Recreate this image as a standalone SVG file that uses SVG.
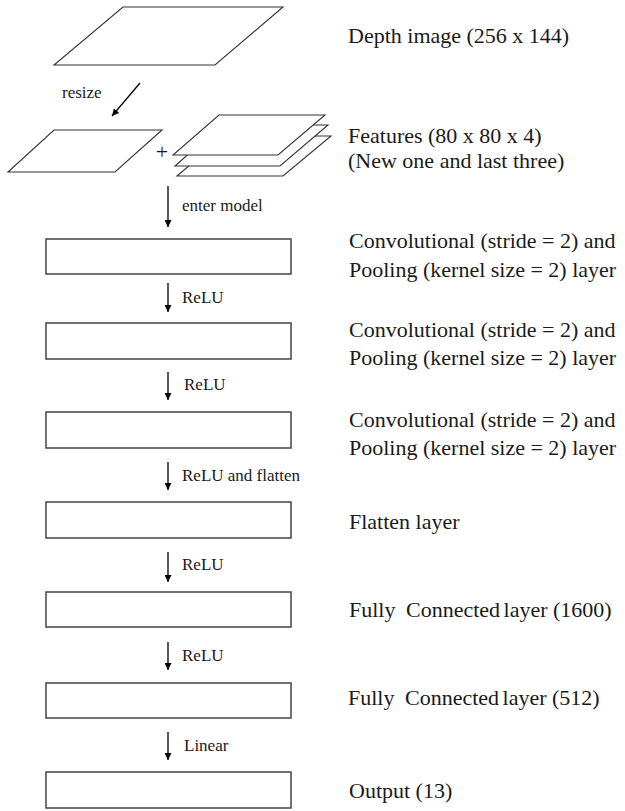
<svg xmlns="http://www.w3.org/2000/svg" width="625" height="811" viewBox="0 0 625 811">
<defs>
<marker id="ah" viewBox="0 0 10 10" refX="10" refY="5" markerWidth="7" markerHeight="7" markerUnits="userSpaceOnUse" orient="auto">
<path d="M0,0 L10,5 L0,10 Z" fill="#000"/>
</marker>
<style>
.box{fill:#fff;stroke:#444;stroke-width:1.5}
.para{fill:#fff;stroke:#333;stroke-width:1.1}
.conn{stroke:#000;stroke-width:1.3;fill:none;marker-end:url(#ah)}
.lbl{font-family:"Liberation Serif","Times New Roman",serif;font-size:22px;fill:#1a1a1a}
.small{font-family:"Liberation Serif","Times New Roman",serif;font-size:17px;fill:#1a1a1a}
</style>
</defs>
<rect width="625" height="811" fill="#fff"/>

<g id="depth-image">
<polygon class="para" points="123,7 283,7 215,65 54,65"/>
<text class="lbl" x="348" y="43">Depth image (256 x 144)</text>
</g>

<g id="resized">
<polygon class="para" points="54,130 162,130 115,172 8,172"/>
<text class="lbl" x="162" y="159" text-anchor="middle" font-size="22">+</text>
</g>

<g id="features">
<polygon class="para" points="224,136 331,136 283,176 177,176"/>
<polygon class="para" points="221,125 328,125 280,166 175,166"/>
<polygon class="para" points="219,115 325,115 278,155 173,155"/>
<text class="lbl" x="348" y="143">Features (80 x 80 x 4)</text>
<text class="lbl" x="348" y="168">(New one and last three)</text>
</g>

<g id="conv1">
<rect class="box" x="46" y="239" width="245" height="35"/>
<text class="lbl" x="349" y="248">Convolutional (stride = 2) and</text>
<text class="lbl" x="349" y="277">Pooling (kernel size = 2) layer</text>
</g>

<g id="conv2">
<rect class="box" x="46" y="323" width="245" height="36"/>
<text class="lbl" x="349" y="337">Convolutional (stride = 2) and</text>
<text class="lbl" x="349" y="365">Pooling (kernel size = 2) layer</text>
</g>

<g id="conv3">
<rect class="box" x="46" y="412" width="245" height="36"/>
<text class="lbl" x="349" y="427">Convolutional (stride = 2) and</text>
<text class="lbl" x="349" y="455">Pooling (kernel size = 2) layer</text>
</g>

<g id="flatten">
<rect class="box" x="46" y="502" width="245" height="36"/>
<text class="lbl" x="349" y="529">Flatten layer</text>
</g>

<g id="fc1600">
<rect class="box" x="46" y="592" width="245" height="35"/>
<text class="lbl" x="349" y="617">Fully <tspan dx="5">Connected</tspan><tspan dx="-2"> layer (1600)</tspan></text>
</g>

<g id="fc512">
<rect class="box" x="46" y="683" width="245" height="35"/>
<text class="lbl" x="348" y="705">Fully <tspan dx="5">Connected</tspan><tspan dx="-2"> layer (512)</tspan></text>
</g>

<g id="output">
<rect class="box" x="46" y="772" width="245" height="36"/>
<text class="lbl" x="349" y="798">Output (13)</text>
</g>

<g id="connectors">
<line class="conn" x1="140" y1="83" x2="112" y2="116"/>
<text class="small" x="62" y="98">resize</text>
<line class="conn" x1="168" y1="186" x2="168" y2="227"/>
<text class="small" x="182" y="211">enter model</text>
<line class="conn" x1="168" y1="283" x2="168" y2="312"/>
<text class="small" x="182" y="303">ReLU</text>
<line class="conn" x1="168" y1="372" x2="168" y2="400"/>
<text class="small" x="184" y="390">ReLU</text>
<line class="conn" x1="168" y1="462" x2="168" y2="490"/>
<text class="small" x="182" y="481">ReLU and flatten</text>
<line class="conn" x1="168" y1="552" x2="168" y2="582"/>
<text class="small" x="182" y="570">ReLU</text>
<line class="conn" x1="168" y1="642" x2="168" y2="670"/>
<text class="small" x="182" y="661">ReLU</text>
<line class="conn" x1="168" y1="732" x2="168" y2="760"/>
<text class="small" x="184" y="751">Linear</text>
</g>
</svg>
